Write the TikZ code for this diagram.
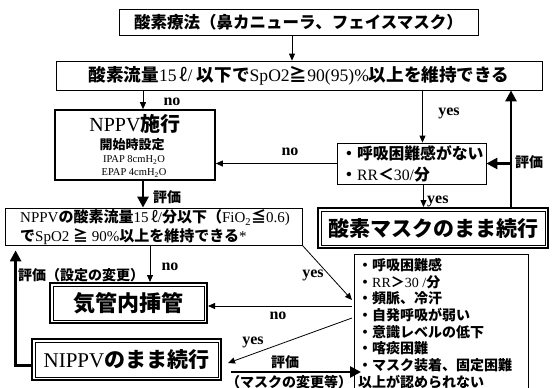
\documentclass[tikz,border=0pt]{standalone}
\usepackage{fontspec}
\setmainfont{Liberation Serif}
\newfontfamily\cjk{Noto Sans CJK JP}
\usetikzlibrary{arrows.meta}
\newcommand\jt[1]{{\cjk\bfseries #1}}
\newcommand\fs[1]{\fontsize{#1}{#1}\selectfont}
\begin{document}
\begin{tikzpicture}[x=1pt,y=-1pt,
  box/.style={draw, line width=0.8pt, inner sep=0pt},
  dbox/.style={draw, line width=2pt, inner sep=0pt},
  txt/.style={inner sep=0pt},
  lbl/.style={inner sep=0pt, font=\fs{16}\bfseries},
  jl/.style={inner sep=0pt, font=\fs{14}\cjk\bfseries},
  arr/.style={-{Triangle[length=7pt,width=6pt]}, line width=0.8pt},
  thk/.style={-{Triangle[length=11pt,width=11pt]}, line width=2.6pt}]
\useasboundingbox (0,0) rectangle (554,388);

% boxes
\node[box, minimum width=359, minimum height=26, font=\fs{16.5}] (b1) at (298.5,22) {\jt{酸素療法（鼻カニューラ、フェイスマスク）}};
\node[box, minimum width=486, minimum height=29, font=\fs{17.6}] (b2) at (299,75.5) {\jt{酸素流量}15\,{\cjk ℓ}/ \jt{以下で}SpO2\jt{≧}90(95)\%\jt{以上を維持できる}};
\node[box, line width=1.6pt, minimum width=160, minimum height=70] (nppv) at (135,145) {};
\node[txt, font=\fs{20}] (nppv1) at (135,124) {NPPV\jt{施行}};
\node[txt, font=\fs{13}] (nppv2) at (132,145) {\jt{開始時設定}};
\node[txt, font=\fs{10.5}] (nppv3) at (134,160) {IPAP 8cmH\textsubscript{2}O};
\node[txt, font=\fs{10.5}] (nppv4) at (134,173) {EPAP 4cmH\textsubscript{2}O};

\node[box, minimum width=149, minimum height=41] (br) at (411.5,163.5) {};
\node[txt, anchor=west, align=left, font=\fontsize{15.8}{21}\selectfont] (brt) at (341,163.5) {\jt{・呼吸困難感がない}\\\jt{・}RR\jt{＜}30/\jt{分}};

\node[dbox, minimum width=230, minimum height=40, font=\fs{21}] (mask) at (433,228) {\jt{酸素マスクのまま続行}};

\node[box, minimum width=297, minimum height=37] (b3) at (153.5,226.5) {};
\node[txt, anchor=west, align=left, font=\fontsize{15}{19}\selectfont] (b3t) at (20,227.5) {NPPV\jt{の酸素流量}15\,{\cjk ℓ}/\jt{分以下（}FiO\textsubscript{2}\jt{≦}0.6)\\\jt{で}SpO2 \jt{≧} 90\%\jt{以上を維持できる}*};

\node[dbox, minimum width=157, minimum height=40, font=\fs{22}] (kik) at (128.5,303) {\jt{気管内挿管}};
\node[dbox, minimum width=189, minimum height=41, font=\fs{21}] (nippv) at (126.5,359.5) {NIPPV\jt{のまま続行}};

\node[inner sep=0pt, minimum width=173, minimum height=134] (sym) at (441.5,322) {};
\draw[line width=0.8pt] (sym.south west) -- (sym.north west) -- (sym.north east) -- (sym.south east);
\node[txt, anchor=north west, align=left, font=\fontsize{14}{16.7}\selectfont\cjk\bfseries] (symt) at (358,258)
 {・呼吸困難感\\・{\rmfamily\mdseries RR}＞{\rmfamily\mdseries 30 /}分\\・頻脈、冷汗\\・自発呼吸が弱い\\・意識レベルの低下\\・喀痰困難\\・マスク装着、固定困難\\以上が認められない};

% inner lines of double boxes
\foreach \n in {mask,kik,nippv}
  \draw[line width=0.9pt] ([shift={(4pt,-4pt)}]\n.north west) rectangle ([shift={(-4pt,4pt)}]\n.south east);

% coordinates for free ends
\coordinate (ev) at (511,0);
\coordinate (s1) at (352,300);
\coordinate (s2) at (352,306);
\coordinate (s3) at (352,318);

% connectors
\draw[arr] ([xshift=-6.5pt]b1.south) -- ([xshift=-6.5pt]b1.south |- b2.north);
\draw[arr] ([xshift=8pt]nppv.north |- b2.south) -- ([xshift=8pt]nppv.north);
\node[lbl] (l1) at (172,102) {no};
\draw[arr] ([xshift=11pt]br.north |- b2.south) -- ([xshift=11pt]br.north);
\node[lbl] (l2) at (449,113) {yes};
\draw[arr] (br.west) -- (br.west -| nppv.east);
\node[lbl] (l3) at (290,152) {no};
\draw[arr] ([xshift=12pt]br.south) -- ([xshift=12pt]br.south |- mask.north);
\node[lbl, anchor=west] (l4) at (427,201) {yes};
\draw[thk] (ev |- mask.north) -- (ev |- b2.south);
\draw[thk] (ev |- br.east) -- (br.east);
\node[jl] (l5) at (529,162) {評価};
\draw[thk] ([xshift=8pt]nppv.south) -- ([xshift=8pt]nppv.south |- b3.north);
\node[jl] (l6) at (167,197) {評価};
\draw[arr] ([xshift=-3.5pt]b3.south) -- ([xshift=-3.5pt]b3.south |- kik.north);
\node[lbl] (l7) at (170,267) {no};
\node[jl] (l8) at (81,275) {評価（設定の変更）};
\draw[arr] (b3.south east) -- (s1);
\node[lbl] (l9) at (313,275) {yes};
\draw[arr] (s2) -- (s2 -| kik.east);
\node[lbl] (l10) at (278,316) {no};
\draw[arr] (s3) -- ([shift={(6pt,-3.5pt)}]nippv.east);
\node[lbl] (l11) at (253,342) {yes};
\draw[thk] ([shift={(9pt,-12.5pt)}]nippv.east) -- ([shift={(9pt,-12.5pt)}]nippv.east -| s1);
\node[jl] (l12) at (285,362) {評価};
\node[jl] (l13) at (289,382) {（マスクの変更等）};
\draw[thk] ([yshift=-6pt]nippv.west) -| ([shift={(11pt,-5pt)}]b3.south west);
\end{tikzpicture}
\end{document}
